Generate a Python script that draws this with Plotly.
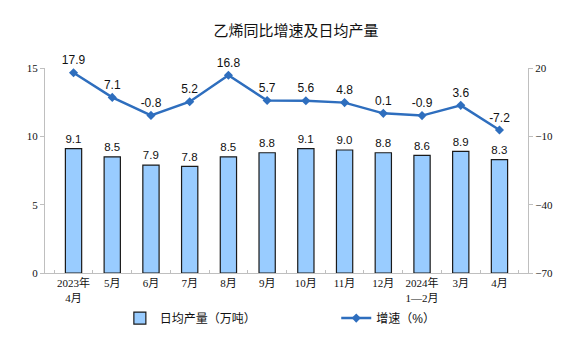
import plotly.graph_objects as go

categories = ["2023年<br>4月", "5月", "6月", "7月", "8月", "9月", "10月", "11月", "12月", "2024年<br>1—2月", "3月", "4月"]
output = [9.1, 8.5, 7.9, 7.8, 8.5, 8.8, 9.1, 9.0, 8.8, 8.6, 8.9, 8.3]
growth = [17.9, 7.1, -0.8, 5.2, 16.8, 5.7, 5.6, 4.8, 0.1, -0.9, 3.6, -7.2]

serif = "Liberation Serif, Noto Sans CJK SC, serif"
sans = "Liberation Sans, Noto Sans CJK SC, sans-serif"

fig = go.Figure()
fig.add_trace(go.Bar(
    x=categories, y=output, name="日均产量（万吨）", legend="legend",
    marker=dict(color="#99CCFF", line=dict(color="#1a1a1a", width=1.2)),
    width=0.42,
    text=[f"{v:.1f}" for v in output], textposition="outside",
    textfont=dict(family=sans, size=12, color="#111"),
    cliponaxis=False,
))
fig.add_trace(go.Scatter(
    x=categories, y=growth, name="增速（%）", yaxis="y2", legend="legend2",
    mode="lines+markers+text",
    line=dict(color="#2E6EBE", width=2.5),
    marker=dict(symbol="diamond", size=7, color="#2E6EBE"),
    text=[f"{v:.1f}" for v in growth], textposition="top center",
    textfont=dict(family=sans, size=12, color="#111"),
    cliponaxis=False,
))

legfont = dict(family=sans, size=12, color="#111")
fig.update_layout(
    width=576, height=357,
    margin=dict(l=37, r=56, t=60, b=92, autoexpand=False),
    paper_bgcolor="white", plot_bgcolor="white",
    title=dict(text="乙烯同比增速及日均产量", x=0.5, xanchor="center", y=0.935, yanchor="middle",
               font=dict(family=sans, size=15, color="#111")),
    showlegend=True,
    legend=dict(orientation="h", x=0.155, xanchor="left", y=-0.22, yanchor="middle",
                font=legfont, bgcolor="rgba(0,0,0,0)"),
    legend2=dict(orientation="h", x=0.603, xanchor="left", y=-0.22, yanchor="middle",
                 font=legfont, bgcolor="rgba(0,0,0,0)"),
    xaxis=dict(type="category", showline=True, linecolor="#BFBFBF", linewidth=1,
               ticks="inside", tickson="boundaries", ticklen=3, tickcolor="#BFBFBF",
               tickangle=0, automargin=False,
               tickfont=dict(family=serif, size=11, color="#111"), showgrid=False),
    yaxis=dict(range=[0, 15], tickvals=[0, 5, 10, 15], showline=True, linecolor="#BFBFBF",
               ticks="outside", ticklen=4, tickcolor="#BFBFBF", showgrid=False, zeroline=False,
               automargin=False, tickfont=dict(family=serif, size=11, color="#111")),
    yaxis2=dict(range=[-70, 20], tickvals=[-70, -40, -10, 20], overlaying="y", side="right",
                showline=True, linecolor="#BFBFBF", ticks="outside", ticklen=4, tickcolor="#BFBFBF",
                showgrid=False, zeroline=False, automargin=False,
                tickfont=dict(family=serif, size=11, color="#111")),
)

fig.write_html("out.html")
